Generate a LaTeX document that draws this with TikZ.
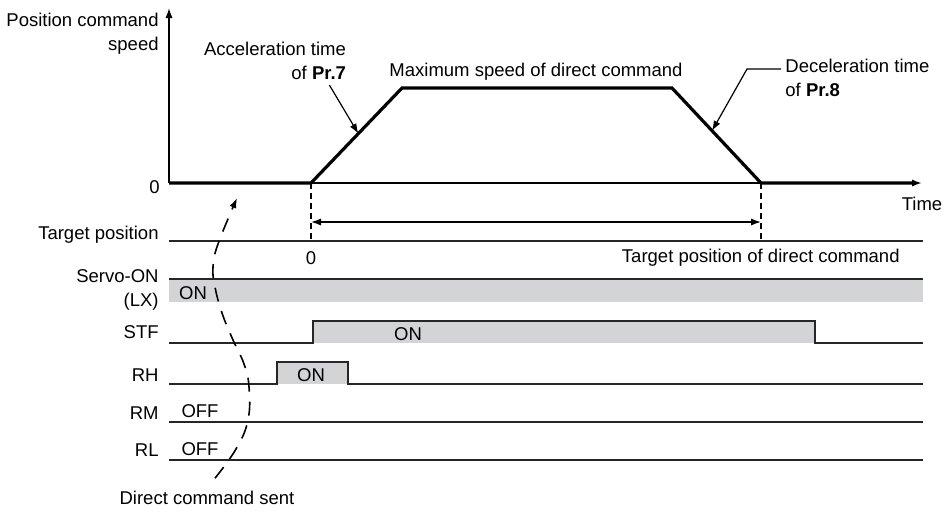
\documentclass[tikz,border=0pt]{standalone}
\usepackage{fontspec}
\setmainfont{Liberation Sans}
\usetikzlibrary{arrows.meta,calc,positioning}
\definecolor{bandgray}{RGB}{211,212,214}

\begin{document}
\begin{tikzpicture}[x=0.5pt,y=-0.5pt,>={Latex[length=5pt,width=3.6pt]},
    font=\fontsize{9.25}{11.8}\selectfont,
    sig/.style={draw=black!85,line width=0.9pt},
    lbl/.style={anchor=east,align=right,inner sep=0pt}]
  \useasboundingbox (0,0) rectangle (945,511);
  % speed profile
  \coordinate (o) at (169,183);
  \coordinate (t1) at (311,183);
  \coordinate (t2) at (402,88);
  \coordinate (t3) at (672,88);
  \coordinate (t4) at (761,183);
  \coordinate (tend) at (922,183);
  \draw[line width=0.7pt,->] (o) -- (169,8);
  \draw[line width=0.7pt] (o) -- (t4);
  \draw[line width=1.6pt,->] (o) -- (t1) -- (t2) -- (t3) -- (t4) -- (tend);
  \node[lbl,align=right] (ylab) at (159,34) {Position command\\speed};
  \node[lbl] (zero) at (160,187) {0};
  \node (time) at (922,204) {Time};
  \node[inner sep=0pt,align=right] (acc) at (275,61) {Acceleration time\\of \textbf{Pr.7}};
  \node[inner sep=0pt] (vmax) at (536,72) {Maximum speed of direct command};
  \node[inner sep=0pt,align=left,anchor=west] (dec) at (785,78) {Deceleration time\\of \textbf{Pr.8}};
  \coordinate (acctip) at ($(t1)!0.52!(t2)$);
  \coordinate (dectip) at ($(t3)!0.45!(t4)$);
  \draw[line width=0.6pt,->] ($(acc.south east)+(-17,5)$) -- (acctip);
  \draw[line width=0.6pt,->] ($(dec.north west)+(-4,10)$) -- ++(-34,0) -- (dectip);
  % target position
  \draw[line width=0.6pt,dash pattern=on 3pt off 2pt] (t1) -- (311,241);
  \draw[line width=0.6pt,dash pattern=on 3pt off 2pt] (t4) -- (761,241);
  \draw[line width=0.7pt,<->] (311,222) -- (761,222);
  \node (zero2) at (311,258) {0};
  \node[lbl] (tpos) at (900,258) {Target position of direct command};
  % signals
  \fill[bandgray] (169,279) rectangle (923,302);
  \draw[sig] (169,279) -- (923,279);
  \node[lbl] (servo) at (159,290) {Servo-ON\\(LX)};
  \node (servoon) at (193,293) {ON};
  \fill[bandgray] (313,321) rectangle (815,343);
  \draw[sig] (169,343) -- (313,343) -- (313,321) -- (815,321) -- (815,343) -- (923,343);
  \node (stfon) at (408,334) {ON};
  \fill[bandgray] (277,362) rectangle (348,384);
  \draw[sig] (169,384) -- (277,384) -- (277,362) -- (348,362) -- (348,384) -- (923,384);
  \node (rhon) at (311,375) {ON};
  \draw[sig] (169,241) -- (923,241);
  \foreach \nm/\y in {rm/422,rl/460}{
    \draw[sig] (169,\y) -- (923,\y);
    \node (\nm off) at (200,\y-11) {OFF};
  }
  \foreach \nm/\y/\lab in {tp/235/Target position,stf/332/STF,rh/375/RH,rm/413/RM,rl/450/RL}
    \node[lbl] (\nm) at (159,\y) {\lab};
  % direct command
  \node (dcs) at (207,498) {Direct command sent};
  \coordinate (sentfoot) at ($(dcs.north)+(8,-6)$);
  \coordinate (senttip) at (237,198);
  \draw[line width=0.8pt,dash pattern=on 7pt off 5pt,->] plot[smooth,tension=0.7]
    coordinates {(sentfoot) (236,449) (248,420) (249,387) (244,364) (233,340) (222,313) (215,287) (213,267) (218,244) (senttip)};
\end{tikzpicture}
\end{document}
